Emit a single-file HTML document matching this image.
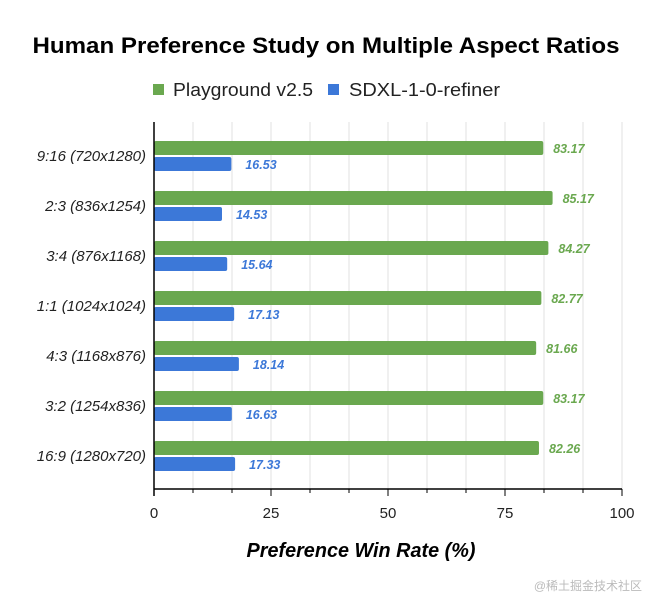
<!DOCTYPE html>
<html><head><meta charset="utf-8"><style>
body{margin:0;background:#fff;width:652px;height:602px;overflow:hidden;font-family:"Liberation Sans",Arial,sans-serif}
</style></head><body>
<svg id="chart" width="652" height="602" xmlns="http://www.w3.org/2000/svg">
<text x="326" y="53" text-anchor="middle" font-size="22" font-weight="bold" fill="#000" textLength="587" lengthAdjust="spacingAndGlyphs">Human Preference Study on Multiple Aspect Ratios</text>
<g>
<rect x="153" y="84" width="11" height="11" fill="#6aa84f"/>
<text x="173" y="96" font-size="18" fill="#222" textLength="140" lengthAdjust="spacingAndGlyphs">Playground v2.5</text>
<rect x="328" y="84" width="11" height="11" fill="#3c78d8"/>
<text x="349" y="96" font-size="18" fill="#222" textLength="151" lengthAdjust="spacingAndGlyphs">SDXL-1-0-refiner</text>
</g>
<g id="grid"></g><g id="bars"></g><g id="axis"></g>
<text x="361" y="557" text-anchor="middle" font-size="20" font-weight="bold" font-style="italic" fill="#000" textLength="229" lengthAdjust="spacingAndGlyphs">Preference Win Rate (%)</text>
<text x="642" y="590" text-anchor="end" font-size="12" fill="#bbb" font-family="'Liberation Sans','Noto Sans CJK SC',sans-serif">@稀土掘金技术社区</text>
</svg>
<script>
const categories=["9:16 (720x1280)","2:3 (836x1254)","3:4 (876x1168)","1:1 (1024x1024)","4:3 (1168x876)","3:2 (1254x836)","16:9 (1280x720)"];
const playground=[83.17,85.17,84.27,82.77,81.66,83.17,82.26];
const sdxl=[16.53,14.53,15.64,17.13,18.14,16.63,17.33];
const tickLabels=[0,25,50,75,100];
const NS="http://www.w3.org/2000/svg";
const X0=154,X1=622,TOP=122,AXY=489;
const x=v=>X0+(v/100)*(X1-X0);
const bandY=i=>131+50*i;
function mk(t,a,p){const e=document.createElementNS(NS,t);for(const k in a)e.setAttribute(k,a[k]);p.appendChild(e);return e;}
const grid=document.getElementById('grid'),bars=document.getElementById('bars'),axis=document.getElementById('axis');
for(let k=1;k<=12;k++){const v=k*100/12;
 const l=mk('line',{x1:x(v),x2:x(v),y1:TOP,y2:AXY,stroke:'#e0e0e0','stroke-width':1},grid);
 
 
 const t=mk('line',{x1:x(v),x2:x(v),y1:AXY,y2:AXY+(k%3===0?7:4),stroke:'#000','stroke-width':1},axis);
 
 }
const ya=mk('line',{x1:X0,x2:X0,y1:TOP,y2:AXY+7,stroke:'#000','stroke-width':1.5},axis);


const xa=mk('line',{x1:X0,x2:X1,y1:AXY,y2:AXY,stroke:'#000','stroke-width':1.5},axis);


tickLabels.forEach(v=>{const t=mk('text',{x:x(v),y:518,'text-anchor':'middle','font-size':15,fill:'#222'},axis);t.textContent=v;
 
 });
categories.forEach((c,i)=>{const b=bandY(i);
 const lab=mk('text',{x:146,y:b+30,'text-anchor':'end','font-size':15,'font-style':'italic',fill:'#222'},bars);lab.textContent=c;
 
 
 const g=mk('rect',{x:X0,y:b+10,width:x(playground[i])-X0,height:14,rx:2,fill:'#6aa84f'},bars);
 
 
 const gt=mk('text',{x:x(playground[i])+10,y:b+22,'font-size':12.5,'font-weight':'bold','font-style':'italic',fill:'#6aa84f'},bars);gt.textContent=playground[i].toFixed(2);
 
 
 const s=mk('rect',{x:X0,y:b+26,width:x(sdxl[i])-X0,height:14,rx:2,fill:'#3c78d8'},bars);
 
 
 const st=mk('text',{x:x(sdxl[i])+14,y:b+38,'font-size':12.5,'font-weight':'bold','font-style':'italic',fill:'#3c78d8'},bars);st.textContent=sdxl[i].toFixed(2);
 
 });
</script>
</body></html>
